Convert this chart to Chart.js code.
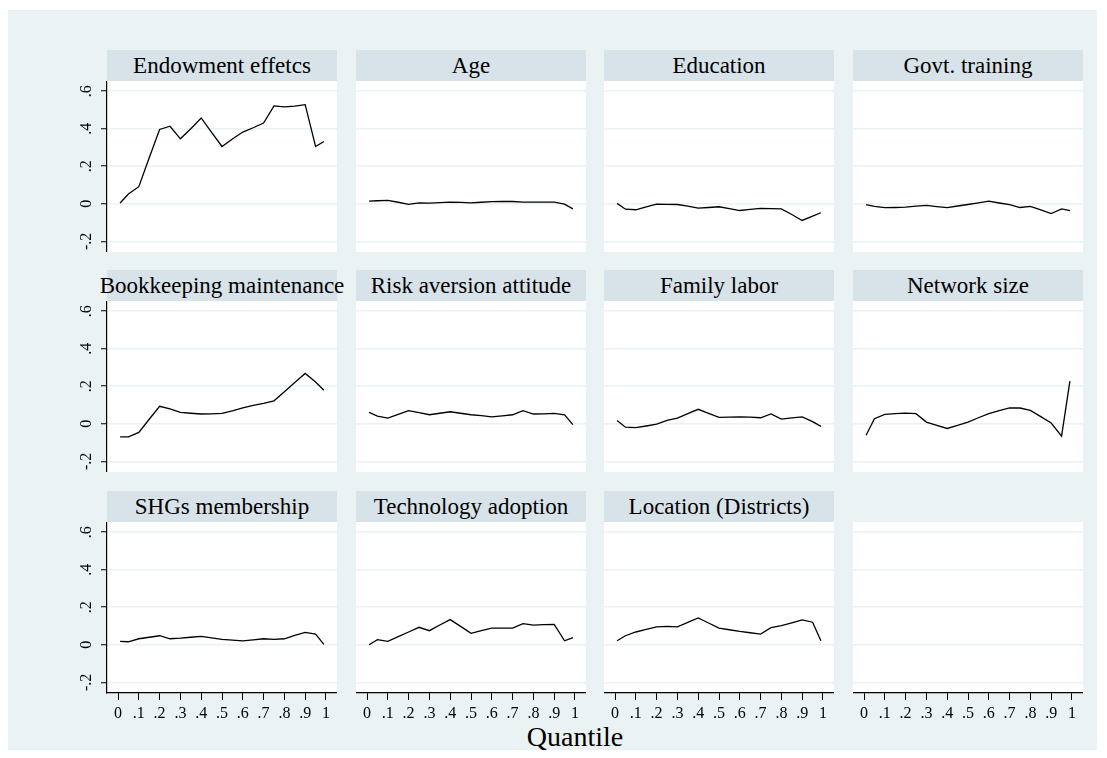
<!DOCTYPE html>
<html lang="en">
<head>
<meta charset="UTF-8">
<title>Quantile decomposition</title>
<style>
    html, body {margin: 0; padding: 0; background: #fff;}
    #graph {position: absolute; left: 0; top: 0; width: 1107px; height: 758px;
            font-family: "Liberation Serif", "Times New Roman", serif; overflow: hidden;}
    #region {position: absolute; left: 8px; top: 10px; width: 1089px; height: 740px; background: #eaf2f3;}
    .strip {position: absolute; height: 31px; background: #d7e3e9; display: flex; justify-content: center;
            align-items: center; font-size: 23px; color: #000; white-space: nowrap;}
    canvas {position: absolute;}
    #xtitle {position: absolute; left: 475px; width: 200px; top: 721px; text-align: center; font-size: 28px; color: #000;}
</style>
</head>
<body>
<div id="graph">
    <div id="region"></div>
    <div id="xtitle">Quantile</div>
</div>
<script src="https://cdn.jsdelivr.net/npm/chart.js@4.4.1/dist/chart.umd.min.js"></script>
<script>
// quantiles at which the effects were estimated
const quantiles = [0.01, 0.05, 0.10, 0.15, 0.20, 0.25, 0.30, 0.35, 0.40, 0.45, 0.50,
                   0.55, 0.60, 0.65, 0.70, 0.75, 0.80, 0.85, 0.90, 0.95, 0.99];

const panelTitles = ['Endowment effetcs', 'Age', 'Education', 'Govt. training',
                     'Bookkeeping maintenance', 'Risk aversion attitude', 'Family labor', 'Network size',
                     'SHGs membership', 'Technology adoption', 'Location (Districts)'];

const endowment     = [0.004, 0.052, 0.091, 0.245, 0.396, 0.413, 0.346, 0.400, 0.457, 0.380, 0.305,
                       0.345, 0.382, 0.405, 0.430, 0.521, 0.516, 0.520, 0.528, 0.305, 0.332];
const age           = [0.014, 0.016, 0.018, 0.008, -0.003, 0.005, 0.003, 0.006, 0.009, 0.007, 0.005,
                       0.008, 0.011, 0.012, 0.012, 0.009, 0.009, 0.009, 0.009, -0.002, -0.027];
const education     = [0.002, -0.029, -0.032, -0.016, -0.002, -0.003, -0.004, -0.013, -0.023, -0.020, -0.016,
                       -0.026, -0.036, -0.030, -0.025, -0.026, -0.027, -0.057, -0.089, -0.066, -0.048];
const govtTraining  = [-0.004, -0.014, -0.021, -0.020, -0.018, -0.013, -0.009, -0.015, -0.021, -0.012, -0.004,
                       0.005, 0.014, 0.004, -0.005, -0.020, -0.014, -0.033, -0.052, -0.027, -0.036];
const bookkeeping   = [-0.070, -0.070, -0.046, 0.024, 0.093, 0.079, 0.061, 0.056, 0.052, 0.053, 0.055,
                       0.068, 0.085, 0.098, 0.108, 0.122, 0.170, 0.220, 0.268, 0.222, 0.179];
const riskAversion  = [0.061, 0.041, 0.030, 0.050, 0.070, 0.059, 0.048, 0.056, 0.064, 0.056, 0.048,
                       0.043, 0.037, 0.042, 0.048, 0.070, 0.052, 0.053, 0.055, 0.048, -0.005];
const familyLabor   = [0.018, -0.018, -0.021, -0.012, -0.002, 0.018, 0.030, 0.054, 0.077, 0.055, 0.034,
                       0.035, 0.037, 0.035, 0.032, 0.052, 0.025, 0.031, 0.037, 0.011, -0.014];
const networkSize   = [-0.061, 0.027, 0.050, 0.054, 0.057, 0.054, 0.009, -0.008, -0.025, -0.008, 0.009,
                       0.032, 0.054, 0.070, 0.084, 0.084, 0.071, 0.038, 0.004, -0.066, 0.227];
const shgMembership = [0.018, 0.016, 0.032, 0.040, 0.048, 0.032, 0.035, 0.040, 0.045, 0.037, 0.029,
                       0.025, 0.021, 0.026, 0.032, 0.029, 0.032, 0.050, 0.066, 0.057, 0.002];
const techAdoption  = [0.000, 0.027, 0.018, 0.043, 0.068, 0.093, 0.075, 0.105, 0.134, 0.098, 0.061,
                       0.075, 0.089, 0.089, 0.089, 0.113, 0.105, 0.107, 0.109, 0.021, 0.038];
const districtLoc   = [0.021, 0.048, 0.068, 0.082, 0.095, 0.098, 0.095, 0.119, 0.143, 0.116, 0.089,
                       0.080, 0.071, 0.064, 0.057, 0.091, 0.102, 0.117, 0.132, 0.120, 0.021];

const panelSeries = [endowment, age, education, govtTraining, bookkeeping, riskAversion,
                     familyLabor, networkSize, shgMembership, techAdoption, districtLoc];

const xTicks = [0, 0.1, 0.2, 0.3, 0.4, 0.5, 0.6, 0.7, 0.8, 0.9, 1];
const yTicks = [-0.2, 0, 0.2, 0.4, 0.6];

// layout of the 4 x 3 grid (page pixels)
const colLeft = [107, 356, 604, 853];
const rowTop = [50, 270, 491];
const plotW = 230, stripH = 31, plotH = 171;
const yAxisSpace = 50, xAxisSpace = 34;
const serif = '"Liberation Serif", "Times New Roman", serif';

function fmt(v) {
    if (Math.abs(v) < 1e-9) return '0';
    if (Math.abs(v - 1) < 1e-9) return '1';
    return (v < 0 ? '-' : '') + Math.abs(v).toFixed(1).replace(/^0/, '');
}

// white plot region
const plotBg = {
    id: 'plotBg',
    beforeDraw(chart) {
        const a = chart.chartArea, ctx = chart.ctx;
        ctx.save();
        ctx.fillStyle = '#fff';
        ctx.fillRect(a.left, a.top, a.right - a.left, a.bottom - a.top);
        ctx.restore();
    }
};

// vertical y labels like stata
const yLabels = {
    id: 'yLabels',
    afterDraw(chart) {
        const ctx = chart.ctx, sy = chart.scales.y, left = chart.chartArea.left;
        ctx.save();
        ctx.font = '16px ' + serif;
        ctx.fillStyle = '#000';
        ctx.textAlign = 'center';
        ctx.textBaseline = 'middle';
        yTicks.forEach(v => {
            ctx.save();
            ctx.translate(left - 20, sy.getPixelForValue(v));
            ctx.rotate(-Math.PI / 2);
            ctx.fillText(fmt(v), 0, 0);
            ctx.restore();
        });
        ctx.restore();
    }
};

const graph = document.getElementById('graph');

for (let i = 0; i < 12; i++) {
    const col = i % 4, row = Math.floor(i / 4);
    const showY = col === 0, showX = row === 2;

    if (i < panelTitles.length) {
        const strip = document.createElement('div');
        strip.className = 'strip';
        strip.style.left = colLeft[col] + 'px';
        strip.style.top = rowTop[row] + 'px';
        strip.style.width = plotW + 'px';
        strip.textContent = panelTitles[i];
        graph.appendChild(strip);
    }

    const cv = document.createElement('canvas');
    const w = plotW + (showY ? yAxisSpace : 0);
    const h = plotH + (showX ? xAxisSpace : 0);
    cv.width = w; cv.height = h;
    cv.style.left = (colLeft[col] - (showY ? yAxisSpace : 0)) + 'px';
    cv.style.top = (rowTop[row] + stripH) + 'px';
    cv.style.width = w + 'px'; cv.style.height = h + 'px';
    graph.appendChild(cv);

    const series = panelSeries[i];
    const datasets = series ? [{
        data: quantiles.map((q, k) => ({x: q, y: series[k]})),
        borderColor: '#000',
        borderWidth: 1.3,
        pointRadius: 0,
        tension: 0,
        fill: false
    }] : [];

    new Chart(cv, {
        type: 'line',
        data: {datasets: datasets},
        options: {
            responsive: false,
            animation: false,
            events: [],
            layout: {padding: 0},
            plugins: {legend: {display: false}, tooltip: {enabled: false}},
            scales: {
                x: {
                    type: 'linear', min: -0.053, max: 1.053, display: showX,
                    afterBuildTicks: s => { s.ticks = xTicks.map(v => ({value: v})); },
                    afterFit: s => { s.height = showX ? xAxisSpace : 0; },
                    grid: {drawOnChartArea: false, drawTicks: true, tickLength: 7, tickColor: '#000', tickWidth: 1},
                    border: {display: true, color: '#000', width: 1.2},
                    ticks: {callback: v => fmt(v), font: {family: serif, size: 16}, color: '#000',
                            padding: 4, maxRotation: 0, autoSkip: false}
                },
                y: {
                    type: 'linear', min: -0.257, max: 0.654,
                    afterBuildTicks: s => { s.ticks = yTicks.map(v => ({value: v})); },
                    afterFit: s => { s.width = showY ? yAxisSpace : 0; },
                    grid: {color: '#eaf2f3', lineWidth: 1.5, drawTicks: showY, tickLength: 6, tickColor: '#000', tickWidth: 1},
                    border: {display: showY, color: '#000', width: 1.2},
                    ticks: {display: false}
                }
            }
        },
        plugins: showY ? [plotBg, yLabels] : [plotBg]
    });
}
</script>
</body>
</html>
